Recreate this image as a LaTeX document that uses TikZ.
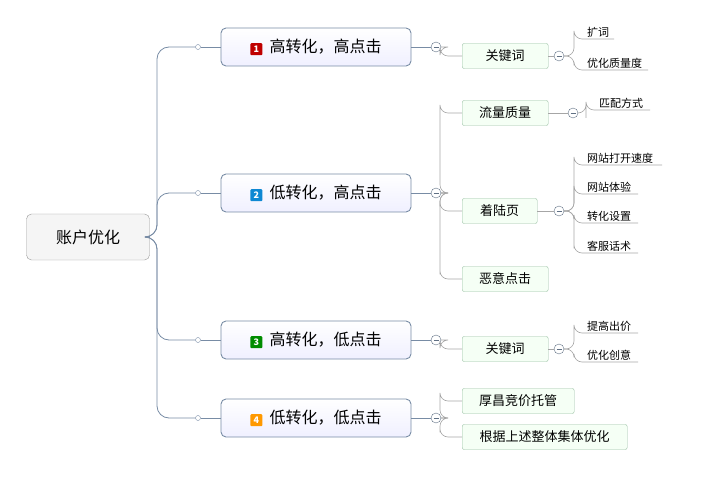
\documentclass[tikz,border=0pt]{standalone}
\usepackage{fontspec}
\setmainfont{Noto Sans CJK SC}
\usetikzlibrary{positioning}
\definecolor{edge}{RGB}{120,140,165}
\definecolor{greenedge}{RGB}{150,190,160}
\tikzset{rootbox/.style={rectangle,rounded corners=5pt,draw=gray!80,fill=gray!8,
minimum width=123pt,minimum height=46pt,font=\fontsize{16}{16}\selectfont}}
\tikzset{mainbox/.style={rectangle,rounded corners=5pt,draw=edge,line width=0.9pt,top color=white,bottom color=blue!6,
minimum width=190pt,minimum height=38pt,font=\fontsize{16}{16}\selectfont}}
\tikzset{subbox/.style={rectangle,rounded corners=2pt,draw=greenedge,fill=green!4,
minimum height=25pt,inner xsep=4pt,font=\fontsize{13}{13}\selectfont}}
\tikzset{leaf/.style={inner sep=1pt,anchor=south west,font=\fontsize{11}{11}\selectfont}}
\tikzset{knob/.style={circle,draw=edge,fill=white,inner sep=0pt,minimum size=5pt}}
\tikzset{fold/.style={circle,draw=edge!80!black,fill=white,inner sep=0pt,minimum size=10pt,
path picture={\draw (path picture bounding box.west)++(2.5pt,0) -- ++(5pt,0);}}}
\tikzset{link/.style={draw=edge,line width=0.8pt,rounded corners=12pt}}
\tikzset{twig/.style={draw=gray!70,line width=0.6pt,rounded corners=8pt}}
\newcommand{\numicon}[2]{\tikz[baseline={([yshift=-3pt]ic.center)}]\node[fill=#1,rounded corners=1pt,text=white,inner sep=0pt,
font=\bfseries\fontsize{9}{9}\selectfont,minimum size=12pt] (ic) {#2};}
\begin{document}
\begin{tikzpicture}[x=1pt,y=-1pt]
\useasboundingbox (0,0) rectangle (720,489);
% root and main branches
\node[rootbox] (root) at (88,237) {账户优化};
\coordinate (trunk) at (157,237);
\node[mainbox] (brA) at (316,47) {\numicon{red!75!black}{1}\ \ 高转化，高点击};
\node[mainbox] (brB) at (316,193) {\numicon{cyan!70!blue}{2}\ \ 低转化，高点击};
\node[mainbox] (brC) at (316,340) {\numicon{green!55!black}{3}\ \ 高转化，低点击};
\node[mainbox] (brD) at (316,418) {\numicon{orange!80!yellow}{4}\ \ 低转化，低点击};
\foreach \b/\y in {A/47,B/193,C/340,D/418}{
  \node[knob] (in\b) at (198,\y) {};
  \node[fold] (out\b) at (436,\y) {};
  \draw[link] (root.east) -- (trunk) |- (in\b);
  \draw[link] (in\b) -- (br\b.west);
  \draw[link] (br\b.east) -- (out\b);
}
% second level
\node[subbox,anchor=west,minimum width=86pt] (kwA) at (462,56) {关键词};
\node[subbox,anchor=west,minimum width=86pt] (flow) at (462,113) {流量质量};
\node[subbox,anchor=west,minimum width=75pt] (land) at (462,211) {着陆页};
\node[subbox,anchor=west,minimum width=86pt] (bad) at (462,279) {恶意点击};
\node[subbox,anchor=west,minimum width=86pt] (kwC) at (462,349) {关键词};
\node[subbox,anchor=west,minimum width=112pt] (host) at (462,401) {厚昌竞价托管};
\node[subbox,anchor=west,minimum width=165pt] (whole) at (462,437) {根据上述整体集体优化};
\foreach \s/\b in {kwA/A,flow/B,land/B,bad/B,kwC/C,host/D,whole/D}
  \draw[twig] (out\b.east) -| ([xshift=-22pt]\s.west) |- (\s.west);
% third level
\node[fold] (fkwA) at (559,56) {};
\node[fold] (fflow) at (573,113) {};
\node[fold] (fland) at (559,211) {};
\node[fold] (fkwC) at (559,349) {};
\foreach \s in {kwA,flow,land,kwC}
  \draw[twig] (\s.east) -- (f\s.west);
\node[leaf] (l1) at (586,39) {扩词};
\node[leaf] (l2) at (586,70) {优化质量度};
\node[leaf] (l3) at (598,110) {匹配方式};
\node[leaf] (l4) at (586,165) {网站打开速度};
\node[leaf] (l5) at (586,194) {网站体验};
\node[leaf] (l6) at (586,223) {转化设置};
\node[leaf] (l7) at (586,253) {客服话术};
\node[leaf] (l8) at (586,333) {提高出价};
\node[leaf] (l9) at (586,362) {优化创意};
\foreach \l/\w/\f in {l1/28/kwA,l2/62/kwA,l3/52/flow,l4/76/land,l5/52/land,l6/52/land,l7/52/land,l8/52/kwC,l9/52/kwC}{
  \draw[twig] (f\f.east) -| ([xshift=-12pt]\l.south west) |- ([xshift=\w]\l.south west);
}
\end{tikzpicture}
\end{document}
